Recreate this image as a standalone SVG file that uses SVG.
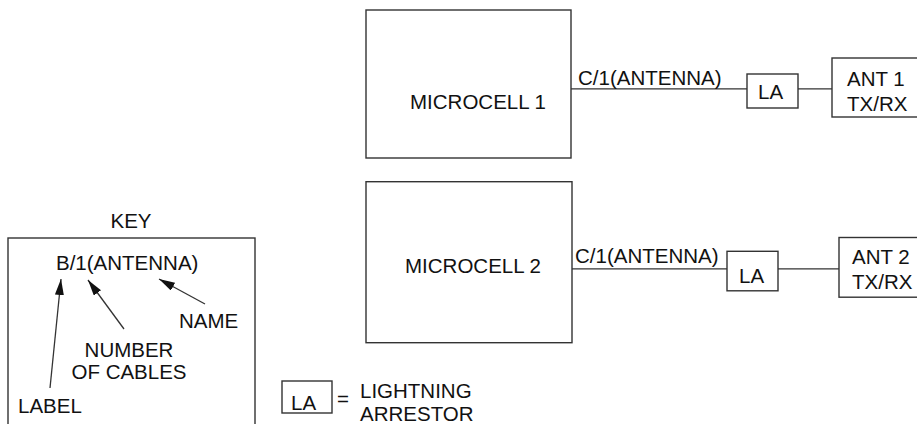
<svg xmlns="http://www.w3.org/2000/svg" width="917" height="424" viewBox="0 0 917 424">
<style>
.box{fill:none;stroke:#333;stroke-width:1.4}
.ln{fill:none;stroke:#333;stroke-width:1.3}
text{font-family:"Liberation Sans",Arial,sans-serif;font-size:20.5px;fill:#111}
</style>
<defs>
<marker id="ah" markerUnits="userSpaceOnUse" markerWidth="17" markerHeight="9" refX="16" refY="4.5" orient="auto">
<path d="M0,0 L16,4.5 L0,9 z" fill="#111"/>
</marker>
</defs>
<g id="connectors">
<line class="ln" x1="571" y1="88.8" x2="747" y2="88.8"/>
<line class="ln" x1="798" y1="88.8" x2="832" y2="88.8"/>
<line class="ln" x1="572" y1="268.8" x2="727" y2="268.8"/>
<line class="ln" x1="778" y1="268.8" x2="839" y2="268.8"/>
<line class="ln" x1="50" y1="388" x2="61" y2="279" marker-end="url(#ah)"/>
<line class="ln" x1="124" y1="329" x2="88" y2="280" marker-end="url(#ah)"/>
<line class="ln" x1="205" y1="304" x2="159" y2="279" marker-end="url(#ah)"/>
</g>
<g id="microcell1">
<rect class="box" x="366" y="10" width="205" height="148"/>
<text x="410" y="109.4">MICROCELL 1</text>
</g>
<text x="578" y="85.3">C/1(ANTENNA)</text>
<g id="la1">
<rect class="box" x="747" y="74" width="51" height="34"/>
<text x="758" y="99">LA</text>
</g>
<g id="ant1">
<rect class="box" x="832" y="58" width="100" height="59"/>
<text x="847" y="86.3">ANT 1</text>
<text x="847" y="110.8">TX/RX</text>
</g>
<g id="microcell2">
<rect class="box" x="366" y="181.7" width="206" height="161"/>
<text x="405" y="273">MICROCELL 2</text>
</g>
<text x="575" y="263">C/1(ANTENNA)</text>
<g id="la2">
<rect class="box" x="727" y="251.3" width="51" height="39.5"/>
<text x="739" y="283">LA</text>
</g>
<g id="ant2">
<rect class="box" x="839" y="237.5" width="100" height="59.7"/>
<text x="852" y="264">ANT 2</text>
<text x="852" y="289">TX/RX</text>
</g>
<g id="key">
<text x="131" y="228" text-anchor="middle">KEY</text>
<rect class="box" x="8" y="238" width="247" height="200"/>
<text x="56" y="270">B/1(ANTENNA)</text>
<text x="179" y="328">NAME</text>
<text x="129" y="356.5" text-anchor="middle">NUMBER</text>
<text x="129" y="379" text-anchor="middle">OF CABLES</text>
<text x="18" y="413">LABEL</text>
</g>
<g id="legend">
<rect class="box" x="282" y="381" width="50" height="32"/>
<text x="291" y="410">LA</text>
<text x="337" y="406">=</text>
<text x="360" y="398">LIGHTNING</text>
<text x="360" y="421">ARRESTOR</text>
</g>
</svg>
